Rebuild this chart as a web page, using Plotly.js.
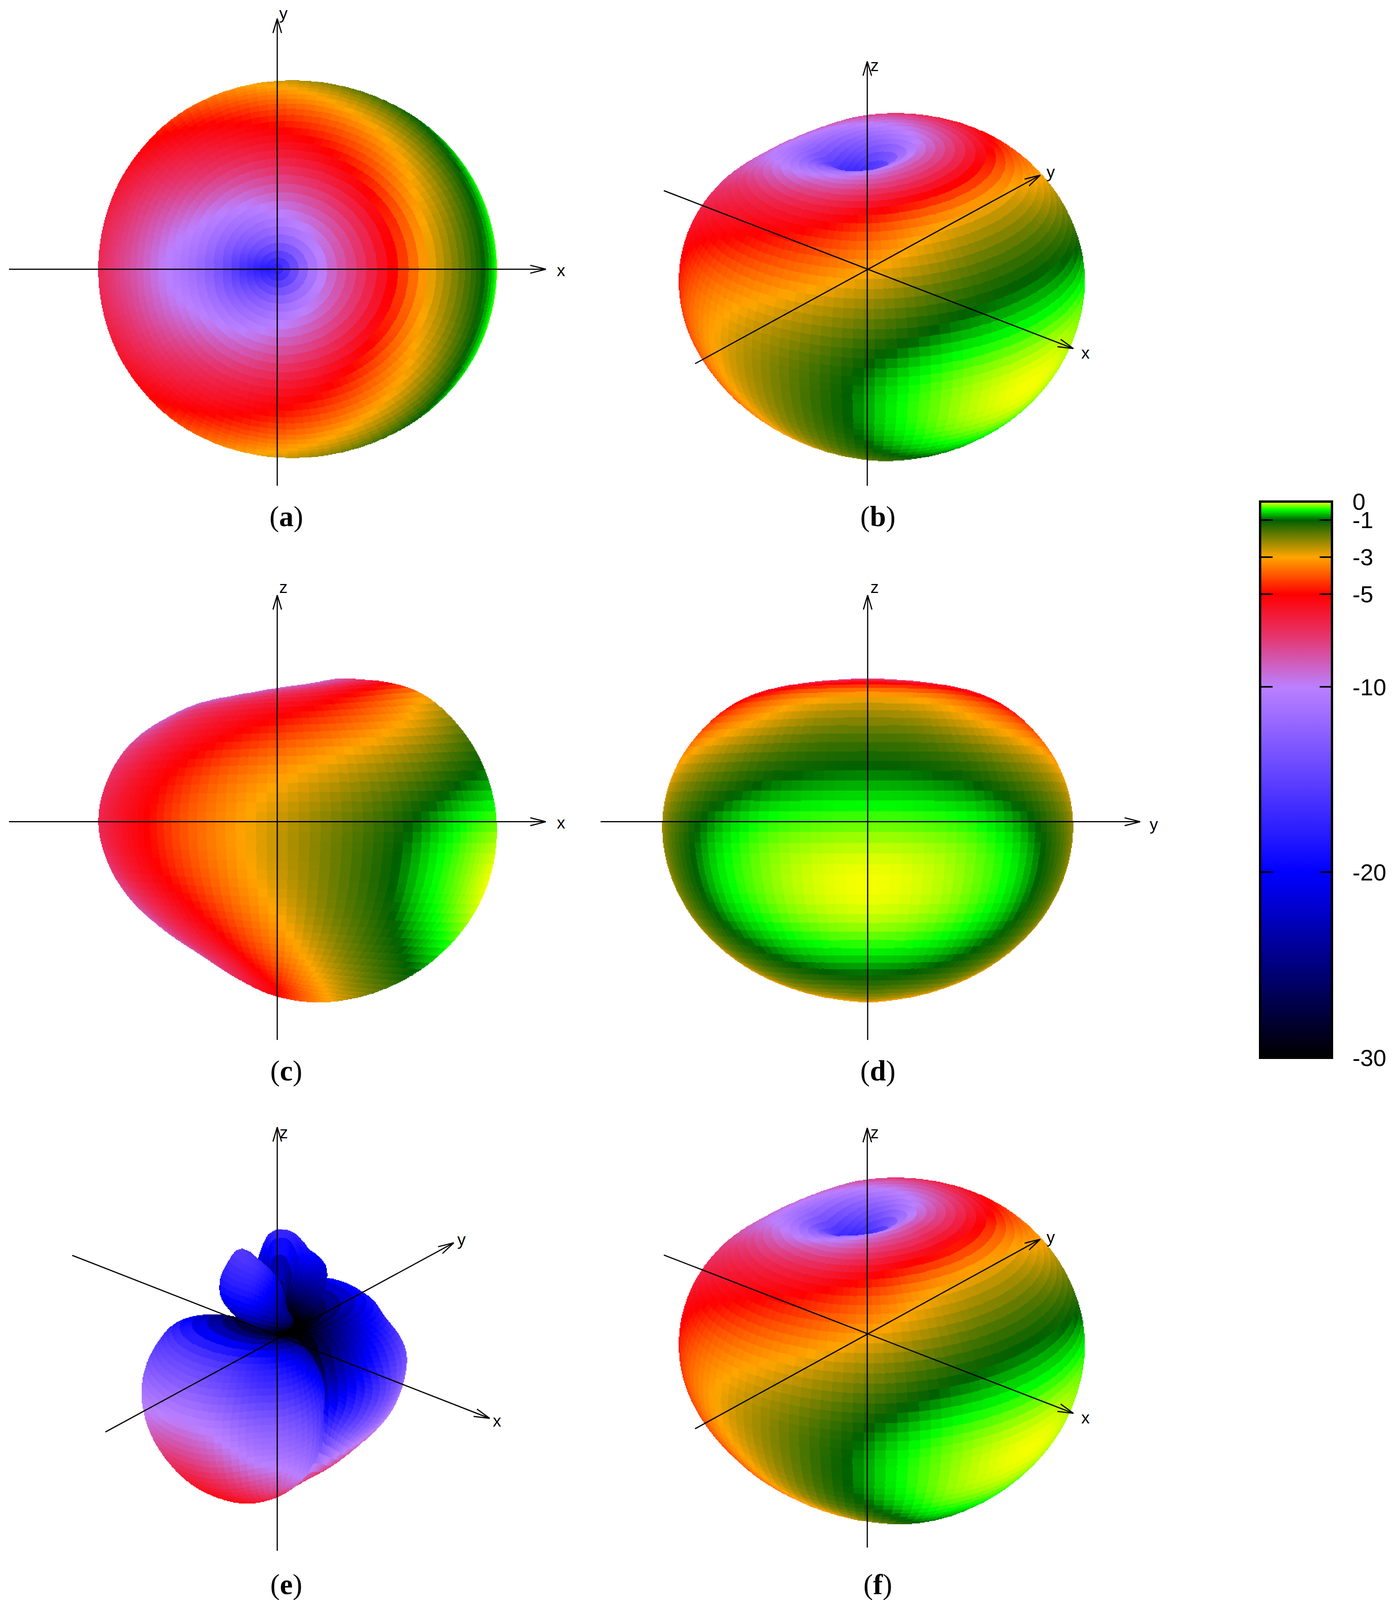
<!DOCTYPE html>
<html>
<head>
<meta charset="utf-8">
<script src="https://cdn.plot.ly/plotly-3.0.1.min.js"></script>
<style>html,body{margin:0;padding:0;background:#fff;overflow:hidden}</style>
</head>
<body>
<div id="chart"></div>
<script>
// page coordinates of the reference; the plot fills whatever height the window really has
const PAGE_W = 3575, PAGE_H = 4457;
const PLOT_H = Math.min(PAGE_H, window.innerHeight || PAGE_H);

// gain grid, dB
const thetaDeg = [0, 15, 30, 45, 60, 75, 90, 105, 120, 135, 150, 165, 180];
const phiDeg = [0, 15, 30, 45, 60, 75, 90, 105, 120, 135, 150, 165, 180, 195, 210, 225, 240, 255, 270, 285, 300, 315, 330, 345];

// co-polar pattern (a-d), phi 0..180, mirrored about the xz plane
const gainMain = [
	[-17.5, -17.5, -17.5, -17.5, -17.5, -17.5, -17.5, -17.5, -17.5, -17.5, -17.5, -17.5, -17.5],
	[-10.3, -10.4, -10.6, -10.9, -11.2, -11.6, -12, -12.5, -13, -13.7, -14.7, -15.8, -16.5],
	[-6.8, -6.9, -7.1, -7.4, -7.8, -8.2, -8.6, -9.2, -9.8, -10.4, -11, -11.6, -12.2],
	[-3.4, -3.5, -3.8, -4.3, -4.9, -5.5, -6, -6.5, -7.1, -7.8, -8.8, -9.6, -10],
	[-1.9, -2, -2.4, -2.9, -3.4, -3.9, -4.4, -5, -5.7, -6.5, -7.3, -7.9, -8.2],
	[-0.95, -1.02, -1.25, -1.7, -2.2, -2.7, -3.2, -3.8, -4.6, -5.5, -6.3, -6.9, -7.2],
	[-0.3, -0.33, -0.45, -0.8, -1.4, -2, -2.6, -3.3, -4.1, -5.1, -5.9, -6.5, -6.7],
	[-0.02, -0.08, -0.25, -0.55, -1.2, -1.9, -2.6, -3.4, -4.3, -5.3, -6.2, -7, -7.3],
	[-0.15, -0.22, -0.4, -0.75, -1.4, -2.1, -3, -3.9, -5, -6.1, -7.1, -7.9, -8.2],
	[-0.7, -0.75, -0.95, -1.35, -1.9, -2.7, -3.6, -4.6, -5.8, -6.8, -7.8, -8.7, -9.1],
	[-1.6, -1.7, -1.9, -2.2, -2.8, -3.5, -4.4, -5.3, -6.4, -7.2, -8.2, -8.9, -9.2],
	[-2.9, -3, -3.2, -3.5, -3.9, -4.4, -5, -5.5, -6, -6.5, -7, -7.6, -8],
	[-4.9, -4.9, -4.9, -4.9, -4.9, -4.9, -4.9, -4.9, -4.9, -4.9, -4.9, -4.9, -4.9],
];

// pattern of panel (f), phi 0..180, mirrored
const gainF = [
	[-18, -18, -18, -18, -18, -18, -18, -18, -18, -18, -18, -18, -18],
	[-10, -10.2, -10.4, -10.7, -11.1, -11.6, -12.2, -13, -13.7, -14.5, -15.5, -16.5, -17],
	[-6.4, -6.6, -6.8, -7.2, -7.7, -8.2, -8.6, -9.2, -9.8, -10.3, -10.9, -11.5, -12],
	[-3.3, -3.4, -3.7, -4.3, -4.9, -5.5, -6, -6.5, -7.1, -7.8, -8.8, -9.6, -10],
	[-1.9, -2, -2.4, -2.9, -3.4, -3.9, -4.4, -5, -5.7, -6.5, -7.3, -7.9, -8.2],
	[-0.95, -1.02, -1.25, -1.7, -2.2, -2.7, -3.2, -3.8, -4.6, -5.5, -6.3, -6.9, -7.2],
	[-0.3, -0.33, -0.45, -0.8, -1.4, -2, -2.6, -3.3, -4.1, -5.1, -5.9, -6.5, -6.7],
	[-0.02, -0.08, -0.25, -0.55, -1.2, -2, -2.8, -3.6, -4.5, -5.5, -6.4, -7.2, -7.5],
	[-0.15, -0.2, -0.35, -0.8, -1.5, -2.4, -3.4, -4.5, -5.6, -6.8, -7.8, -8.6, -9],
	[-0.6, -0.7, -0.9, -1.6, -2.5, -3.4, -4.4, -5.5, -6.8, -8.2, -9.4, -10.2, -10.6],
	[-1.3, -1.4, -1.9, -2.6, -3.3, -4.2, -5.3, -6.4, -7.8, -9.2, -10.4, -11.2, -11.5],
	[-2.5, -2.7, -3, -3.5, -4.2, -5.2, -6.2, -7.2, -8.2, -9.2, -10, -10.4, -10.6],
	[-6.5, -6.5, -6.5, -6.5, -6.5, -6.5, -6.5, -6.5, -6.5, -6.5, -6.5, -6.5, -6.5],
];

// cross-polar pattern of panel (e), phi 0..345
const gainE = [
	[-35, -35, -35, -35, -35, -35, -35, -35, -35, -35, -35, -35, -35, -35, -35, -35, -35, -35, -35, -35, -35, -35, -35, -35],
	[-35, -30, -26, -23, -21, -20, -19, -18, -17.8, -18, -19.5, -24, -35, -30, -23, -19, -17, -17, -17.5, -18.5, -20, -22, -25, -29],
	[-35, -30, -26, -24, -22, -20.5, -19.5, -19, -18.7, -19, -20.5, -24, -35, -30, -24, -20, -17.5, -17, -17, -17.5, -20, -23, -26, -30],
	[-35, -30, -27, -25, -23.5, -21.5, -21, -21, -22, -23, -24, -27, -35, -30, -27, -24, -21.5, -20.5, -20.5, -21, -23, -25, -26, -29],
	[-35, -33, -31, -30, -29, -28, -28, -28, -28, -29, -30, -31, -35, -33, -31, -29, -28, -28, -28, -28, -29, -30, -31, -33],
	[-35, -28, -24, -21, -19.5, -19.5, -19.5, -20, -21, -22, -25, -29, -35, -29, -24, -20, -18, -17, -17, -17.5, -19, -21, -24, -29],
	[-35, -26, -21, -17, -17, -17, -17, -17.5, -18.5, -20, -23, -28, -35, -27, -21, -16.5, -14.5, -13.5, -13, -14, -16, -17, -20, -25],
	[-35, -25, -19, -14, -13.8, -14.5, -15, -16, -17, -19, -22, -27, -35, -26, -19, -14, -11.5, -10.5, -10, -10.5, -12.5, -13.5, -16.5, -22],
	[-34, -23, -16, -12.5, -10.5, -10.5, -11, -12, -14, -16, -20, -26, -34, -25, -17, -12, -9.5, -8.3, -7.8, -8.5, -10.5, -11.5, -14, -21],
	[-30, -20, -14, -10.5, -8.5, -8, -8, -9, -10.5, -13, -17, -23, -30, -22, -15, -10.5, -8, -6.7, -6, -6.5, -8, -9.5, -12, -17],
	[-20, -16, -12, -9, -7.2, -6.8, -6.5, -7, -8.5, -10.5, -13, -17, -20, -16, -12.5, -9, -6.8, -5.7, -5.2, -5.4, -6.5, -8.5, -10, -14],
	[-9, -8.5, -7.5, -6.5, -6, -5.6, -5.3, -5.5, -6, -7, -8, -9, -9, -8.5, -7.5, -6.5, -5.5, -5, -4.8, -5, -5.5, -6.3, -7.5, -8.5],
	[-4.8, -4.8, -4.8, -4.8, -4.8, -4.8, -4.8, -4.8, -4.8, -4.8, -4.8, -4.8, -4.8, -4.8, -4.8, -4.8, -4.8, -4.8, -4.8, -4.8, -4.8, -4.8, -4.8, -4.8],
];

// colour map
const colorDb = [-30, -20, -10, -7.2, -5, -3, -1, -0.45, 0];
const colorHex = ["#000000", "#0000ff", "#bb80ff", "#e6336a", "#ff0000", "#ffa500", "#006000", "#00ff00", "#ffff00"];
const barTicks = [0, -1, -3, -5, -10, -20, -30];

// surface radius per dB, page pixels
const R_PER_DB = 16.2;
const R_ZERO_DB = -35;
const CELL_DEG = 3;     // pm3d cell size of the drawing mesh
const RASTER = 2;       // page pixels per heatmap brick
const HALF = 640;

const panels = [
	{ label: "a", gain: gainMain, cx: 710, cy: 750, capY: 1438, capX: 733, az: 0, el: 90,
		axes: [
			{ name: "x", tail: [23, 750], tip: [1398, 750], at: [1437, 753] },
			{ name: "y", tail: [710, 1353], tip: [710, 52], at: [726, 37] },
		] },
	{ label: "b", gain: gainMain, cx: 2221, cy: 750, capY: 1438, capX: 2248, az: 40, el: 30,
		axes: [
			{ name: "x", tail: [1700, 531], tip: [2749, 971], at: [2780, 983] },
			{ name: "y", tail: [1780, 1013], tip: [2664, 488], at: [2691, 479] },
			{ name: "z", tail: [2221, 1353], tip: [2221, 171], at: [2240, 182] },
		] },
	{ label: "c", gain: gainMain, cx: 710, cy: 2289, capY: 2983, capX: 733, az: 0, el: 0,
		axes: [
			{ name: "x", tail: [23, 2289], tip: [1398, 2289], at: [1437, 2292] },
			{ name: "z", tail: [710, 2897], tip: [710, 1658], at: [726, 1635] },
		] },
	{ label: "d", gain: gainMain, cx: 2222, cy: 2289, capY: 2983, capX: 2248, az: 90, el: 0,
		axes: [
			{ name: "y", tail: [1538, 2289], tip: [2920, 2289], at: [2955, 2296] },
			{ name: "z", tail: [2222, 2897], tip: [2222, 1658], at: [2240, 1635] },
		] },
	{ label: "e", gain: gainE, cx: 710, cy: 3717, capY: 4413, capX: 733, az: 40, el: 30,
		axes: [
			{ name: "x", tail: [185, 3497], tip: [1254, 3951], at: [1273, 3957] },
			{ name: "y", tail: [270, 3989], tip: [1162, 3462], at: [1182, 3453] },
			{ name: "z", tail: [710, 4320], tip: [710, 3140], at: [727, 3154] },
		] },
	{ label: "f", gain: gainF, cx: 2221, cy: 3715, capY: 4413, capX: 2248, az: 40, el: 30,
		axes: [
			{ name: "x", tail: [1700, 3496], tip: [2749, 3937], at: [2780, 3949] },
			{ name: "y", tail: [1780, 3980], tip: [2664, 3452], at: [2691, 3446] },
			{ name: "z", tail: [2221, 4311], tip: [2221, 3142], at: [2240, 3154] },
		] },
];

const deg = Math.PI / 180;

// mirrored tables get the phi 195..345 half from phi 165..15
function fullRow(row) {
	return row.length === phiDeg.length ? row : row.concat(row.slice(1, -1).reverse());
}

function catmull(t) {
	return [
		((2 - t) * t - 1) * t / 2,
		((3 * t - 5) * t * t + 2) / 2,
		((4 - 3 * t) * t + 1) * t / 2,
		(t - 1) * t * t / 2,
	];
}

// read-off table evaluated on the drawing mesh of the surface
function meshGain(table) {
	const rows = table.map(fullRow);
	const nT = rows.length - 1, nP = phiDeg.length;
	const at = (i, j) => {
		if (i < 0) { i = -i; j += nP / 2; }
		if (i > nT) { i = 2 * nT - i; j += nP / 2; }
		return rows[i][((j % nP) + nP) % nP];
	};
	const stepT = (thetaDeg[1] - thetaDeg[0]) / CELL_DEG;
	const out = [];
	for (let k = 0; k <= nT * stepT; k++) {
		const i0 = Math.min(Math.floor(k / stepT), nT - 1);
		const wi = catmull(k / stepT - i0);
		const line = [];
		for (let l = 0; l <= nP * stepT; l++) {
			const j0 = Math.floor(l / stepT);
			const wj = catmull(l / stepT - j0);
			let s = 0;
			for (let a = 0; a < 4; a++) {
				for (let b = 0; b < 4; b++) s += wi[a] * wj[b] * at(i0 + a - 1, j0 + b - 1);
			}
			line.push(Math.min(0, Math.max(R_ZERO_DB, s)));
		}
		out.push(line);
	}
	return out;
}

// flat shaded cells with a depth buffer, gives the heatmap grid of one view
function renderView(panel) {
	const n = Math.ceil(2 * HALF / RASTER);
	const depth = new Float32Array(n * n).fill(-Infinity);
	const value = new Float32Array(n * n).fill(NaN);
	const mesh = meshGain(panel.gain);
	const sa = Math.sin(panel.az * deg), ca = Math.cos(panel.az * deg);
	const se = Math.sin(panel.el * deg), ce = Math.cos(panel.el * deg);
	const pts = mesh.map((line, k) => line.map((g, l) => {
		const r = R_PER_DB * (g - R_ZERO_DB);
		const th = k * CELL_DEG * deg, ph = l * CELL_DEG * deg;
		const x = r * Math.sin(th) * Math.cos(ph), y = r * Math.sin(th) * Math.sin(ph), z = r * Math.cos(th);
		return [
			(x * ca + y * sa + HALF) / RASTER,
			(HALF - (-x * sa * se + y * ca * se + z * ce)) / RASTER,
			x * sa * ce - y * ca * ce + z * se,
		];
	}));
	const tri = (p, q, w, g) => {
		const area = (q[0] - p[0]) * (w[1] - p[1]) - (q[1] - p[1]) * (w[0] - p[0]);
		if (area === 0) return;
		const x0 = Math.max(0, Math.floor(Math.min(p[0], q[0], w[0]))), x1 = Math.min(n - 1, Math.ceil(Math.max(p[0], q[0], w[0])));
		const y0 = Math.max(0, Math.floor(Math.min(p[1], q[1], w[1]))), y1 = Math.min(n - 1, Math.ceil(Math.max(p[1], q[1], w[1])));
		for (let yy = y0; yy <= y1; yy++) {
			for (let xx = x0; xx <= x1; xx++) {
				const a = ((q[0] - xx) * (w[1] - yy) - (q[1] - yy) * (w[0] - xx)) / area;
				const b = ((w[0] - xx) * (p[1] - yy) - (w[1] - yy) * (p[0] - xx)) / area;
				const c = 1 - a - b;
				if (a < -0.01 || b < -0.01 || c < -0.01) continue;
				const d = a * p[2] + b * q[2] + c * w[2];
				if (d > depth[yy * n + xx]) {
					depth[yy * n + xx] = d;
					value[yy * n + xx] = g;
				}
			}
		}
	};
	for (let k = 0; k < mesh.length - 1; k++) {
		for (let l = 0; l < mesh[0].length - 1; l++) {
			const g = (mesh[k][l] + mesh[k + 1][l] + mesh[k][l + 1] + mesh[k + 1][l + 1]) / 4;
			tri(pts[k][l], pts[k + 1][l], pts[k + 1][l + 1], g);
			tri(pts[k][l], pts[k + 1][l + 1], pts[k][l + 1], g);
		}
	}
	const z = [];
	for (let yy = 0; yy < n; yy++) {
		const line = new Array(n);
		for (let xx = 0; xx < n; xx++) {
			const v = value[yy * n + xx];
			line[xx] = Number.isNaN(v) ? null : v;
		}
		z.push(line);
	}
	return z;
}

const traces = panels.map((p) => ({
	type: "heatmap",
	z: renderView(p),
	x0: p.cx - HALF,
	dx: RASTER,
	y0: p.cy - HALF,
	dy: RASTER,
	coloraxis: "coloraxis",
	hoverinfo: "skip",
}));

// axes with open arrow heads
panels.forEach((p) => {
	const xs = [], ys = [];
	p.axes.forEach((ax) => {
		xs.push(ax.tail[0], ax.tip[0], null);
		ys.push(ax.tail[1], ax.tip[1], null);
		const len = Math.hypot(ax.tip[0] - ax.tail[0], ax.tip[1] - ax.tail[1]);
		const ux = (ax.tip[0] - ax.tail[0]) / len, uy = (ax.tip[1] - ax.tail[1]) / len;
		[-1, 1].forEach((side) => {
			xs.push(ax.tip[0] - 40 * ux - side * 11 * uy, ax.tip[0], null);
			ys.push(ax.tip[1] - 40 * uy + side * 11 * ux, ax.tip[1], null);
		});
	});
	traces.push({
		type: "scatter",
		mode: "lines",
		x: xs,
		y: ys,
		line: { color: "#000", width: 3 },
		hoverinfo: "skip",
	});
});

function textNote(x, y, text, family, size) {
	return {
		xref: "x", yref: "y",
		x, y,
		text,
		showarrow: false,
		xanchor: "center",
		yanchor: "middle",
		font: { family, size, color: "#000" },
	};
}

const annotations = [];
panels.forEach((p) => {
	p.axes.forEach((ax) => annotations.push(textNote(ax.at[0], ax.at[1], ax.name, "Liberation Sans", 43)));
	annotations.push(textNote(p.capX, p.capY, "(<b>" + p.label + "</b>)", "Liberation Serif", 74));
});

// tick marks on both edges of the colour bar sit above it
barTicks.slice(1, -1).forEach((v) => {
	const y = 1397 - v * 51.63;
	[[3227, 3259], [3379, 3411]].forEach((span) => {
		annotations.push({
			xref: "x", yref: "y", axref: "x", ayref: "y",
			x: span[1], y, ax: span[0], ay: y,
			text: " ", font: { size: 1 }, borderpad: 0,
			showarrow: true, arrowhead: 0, arrowwidth: 4, arrowcolor: "#000",
			standoff: 0, startstandoff: 0,
		});
	});
});

const layout = {
	width: PAGE_W,
	height: PLOT_H,
	margin: { l: 0, r: 0, t: 0, b: 0 },
	paper_bgcolor: "#fff",
	plot_bgcolor: "#fff",
	showlegend: false,
	xaxis: { range: [0, PAGE_W], visible: false },
	yaxis: { range: [PAGE_H, 0], visible: false },
	coloraxis: {
		cmin: -30,
		cmax: 0,
		colorscale: colorDb.map((db, i) => [(db + 30) / 30, colorHex[i]]),
		colorbar: {
			x: 3227 / PAGE_W,
			xanchor: "left",
			xpad: 0,
			y: 1 - 1397 / PAGE_H,
			yanchor: "top",
			ypad: 0,
			thickness: 184,
			thicknessmode: "pixels",
			len: 1549 / PAGE_H,
			lenmode: "fraction",
			outlinewidth: 6,
			outlinecolor: "#000",
			tickvals: barTicks,
			ticktext: barTicks.map(String),
			ticks: "outside",
			ticklen: 38,
			tickcolor: "rgba(0,0,0,0)",
			tickfont: { family: "Liberation Sans", size: 60, color: "#000" },
		},
	},
	annotations,
};

Plotly.newPlot("chart", traces, layout, { displayModeBar: false, staticPlot: true });
</script>
</body>
</html>
